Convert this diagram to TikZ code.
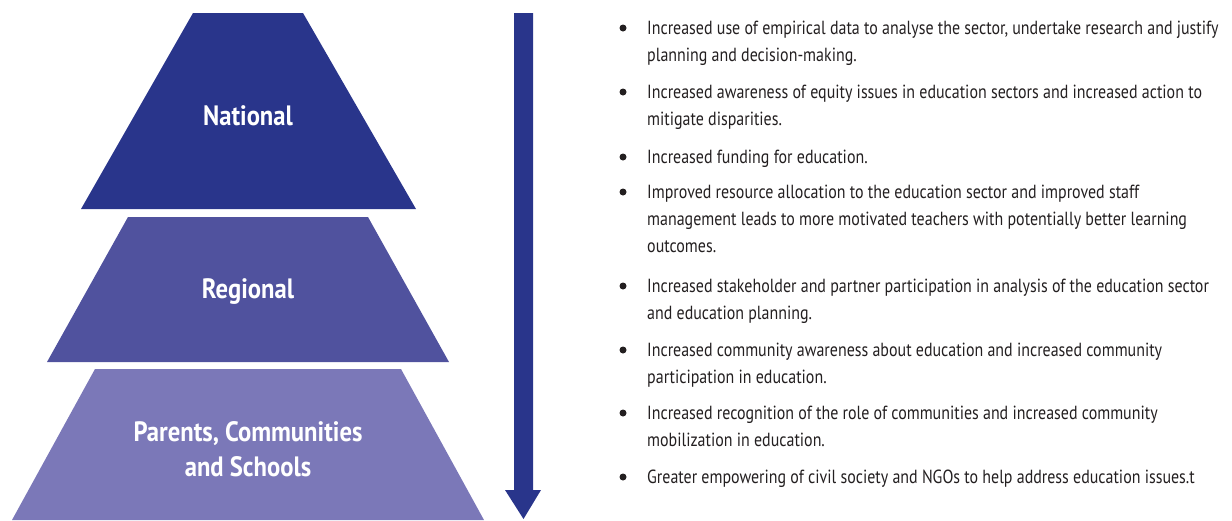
\documentclass[tikz,border=0pt]{standalone}
\usepackage{fontspec}
\newfontfamily\bodyfont{PT Sans}[FakeStretch=0.84]
\newfontfamily\labelfont{PT Sans}[FakeStretch=0.88]
\definecolor{natblue}{RGB}{41,53,139}
\definecolor{regblue}{RGB}{80,82,158}
\definecolor{parblue}{RGB}{123,120,184}
\definecolor{txt}{RGB}{35,31,32}
\newcommand{\itmlines}[1]{\begin{tabular}[t]{@{}l@{}}#1\end{tabular}}
\tikzset{
  itemtext/.style={anchor=base west, inner sep=0pt, text=txt,
    font=\bodyfont\fontsize{19}{27}\selectfont},
  bulletdot/.style={circle, fill=txt, inner sep=0pt, minimum size=7pt},
  levellabel/.style={align=center, text=white, inner sep=0pt,
    font=\labelfont\bfseries\fontsize{28}{35}\selectfont}
}
\begin{document}
\begin{tikzpicture}[x=1pt,y=-1pt]
\useasboundingbox (0,0) rectangle (1232,520);
% pyramid levels
\fill[natblue] (193,13) -- (303,13) -- (416,209) -- (81,209) -- cycle;
\fill[regblue] (128,217) -- (368,217) -- (449,362) -- (47,362) -- cycle;
\fill[parblue] (95,369) -- (401,369) -- (484,520) -- (12,520) -- cycle;
\node[levellabel] (nat) at (248,116) {National};
\node[levellabel] (reg) at (248,292) {Regional};
\node[levellabel] (par) at (248,449) {Parents, Communities\\and Schools};
% arrow
\fill[natblue] (514,13) -- (533,13) -- (533,490) -- (541,490) -- (523.5,519) -- (505,490) -- (514,490) -- cycle;
% bullets
\foreach \y [count=\i] in {28,92,157,192,286,350,413,477}
  \node[bulletdot] (b\i) at (623,\y) {};
\node[itemtext] (t1) at (647,34) {\itmlines{Increased use of empirical data to analyse the sector, undertake research and justify\\planning and decision-making.}};
\node[itemtext] (t2) at (647,98) {\itmlines{Increased awareness of equity issues in education sectors and increased action to\\mitigate disparities.}};
\node[itemtext] (t3) at (647,163) {\itmlines{Increased funding for education.}};
\node[itemtext] (t4) at (647,198) {\itmlines{Improved resource allocation to the education sector and improved staff\\management leads to more motivated teachers with potentially better learning\\outcomes.}};
\node[itemtext] (t5) at (647,292) {\itmlines{Increased stakeholder and partner participation in analysis of the education sector\\and education planning.}};
\node[itemtext] (t6) at (647,356) {\itmlines{Increased community awareness about education and increased community\\participation in education.}};
\node[itemtext] (t7) at (647,419) {\itmlines{Increased recognition of the role of communities and increased community\\mobilization in education.}};
\node[itemtext] (t8) at (647,483) {\itmlines{Greater empowering of civil society and NGOs to help address education issues.t}};
\end{tikzpicture}
\end{document}
